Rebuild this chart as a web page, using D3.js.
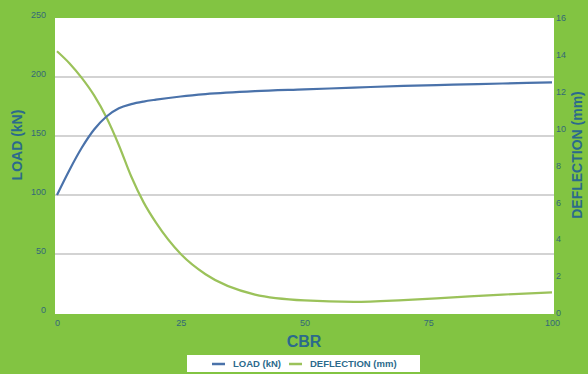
<!DOCTYPE html>
<html>
<head>
<meta charset="utf-8">
<script src="https://cdn.jsdelivr.net/npm/d3@7"></script>
<style>
  html, body { margin: 0; padding: 0; background: #82c442; }
  svg { display: block; font-family: "Liberation Sans", Arial, sans-serif; }
</style>
</head>
<body>
<svg id="chart" width="588" height="374"></svg>
<script>
// values
var cbr = [0, 2.5, 5, 7.5, 10, 12.5, 15, 17.5, 20, 25, 30, 40, 50, 60, 70, 80, 90, 100];
var load = [100, 121, 140, 155.5, 166.5, 173.5, 177, 179.2, 180.8, 183.5, 185.5, 188, 189.5, 191, 192.5, 193.5, 194.5, 195.5];
var deflection = [14.2, 13.55, 12.75, 11.8, 10.6, 9.1, 7.4, 6.0, 4.9, 3.2, 2.1, 1.0, 0.68, 0.6, 0.7, 0.85, 1.0, 1.12];

var loadTicks = [0, 50, 100, 150, 200, 250];
var deflTicks = [0, 2, 4, 6, 8, 10, 12, 14, 16];
var cbrTicks = [0, 25, 50, 75, 100];

var textColor = "#2b6a8c";
var tickColor = "#336878";

var svg = d3.select("#chart");

var plot = { left: 55, right: 554, top: 18, bottom: 314 };

var x = d3.scaleLinear().domain([0, 100]).range([57, 552]);
var yL = d3.scaleLinear().domain([0, 250]).range([313, 18]);
var yR = d3.scaleLinear().domain([0, 16]).range([313, 18]);

svg.append("rect")
    .attr("x", plot.left).attr("y", plot.top)
    .attr("width", plot.right - plot.left)
    .attr("height", plot.bottom - plot.top)
    .attr("fill", "#ffffff");

// gridlines
svg.append("g").selectAll("line")
    .data(loadTicks.filter(d => d > 0 && d < 250))
    .join("line")
    .attr("x1", plot.left).attr("x2", plot.right)
    .attr("y1", d => yL(d)).attr("y2", d => yL(d))
    .attr("stroke", "#c4c4c4")
    .attr("stroke-width", 1.5);

// axes (labels only, no domain lines)
var leftAxis = svg.append("g")
    .attr("transform", "translate(" + 46 + ",0)")
    .call(d3.axisLeft(yL).tickValues(loadTicks).tickSize(0).tickPadding(0));
var rightAxis = svg.append("g")
    .attr("transform", "translate(" + 556 + ",0)")
    .call(d3.axisRight(yR).tickValues(deflTicks).tickSize(0).tickPadding(0));
var bottomAxis = svg.append("g")
    .attr("transform", "translate(0," + 320 + ")")
    .call(d3.axisBottom(x).tickValues(cbrTicks).tickSize(0).tickPadding(0));

[leftAxis, rightAxis, bottomAxis].forEach(function (a) {
    a.select(".domain").remove();
    a.selectAll("text")
        .attr("fill", tickColor)
        .style("font-size", "9px")
        .style("font-family", "'Liberation Sans', Arial, sans-serif");
});
leftAxis.selectAll("text").attr("dy", "-0.1em");
rightAxis.selectAll("text").attr("dy", "0.3em");

// lines
var loadLine = d3.line()
    .x((d, i) => x(cbr[i]))
    .y(d => yL(d))
    .curve(d3.curveMonotoneX);
var deflLine = d3.line()
    .x((d, i) => x(cbr[i]))
    .y(d => yR(d))
    .curve(d3.curveMonotoneX);

svg.append("path")
    .datum(deflection)
    .attr("d", deflLine)
    .attr("fill", "none")
    .attr("stroke", "#9bc25a")
    .attr("stroke-width", 2.2);

svg.append("path")
    .datum(load)
    .attr("d", loadLine)
    .attr("fill", "none")
    .attr("stroke", "#4a72aa")
    .attr("stroke-width", 2.2);

// axis titles
svg.append("text")
    .attr("transform", "translate(22,145) rotate(-90)")
    .attr("text-anchor", "middle")
    .attr("fill", textColor)
    .style("font-weight", "bold")
    .style("font-size", "14px")
    .text("LOAD (kN)");

svg.append("text")
    .attr("transform", "translate(582,155) rotate(-90)")
    .attr("text-anchor", "middle")
    .attr("fill", textColor)
    .style("font-weight", "bold")
    .style("font-size", "14px")
    .text("DEFLECTION (mm)");

svg.append("text")
    .attr("x", 304).attr("y", 347)
    .attr("text-anchor", "middle")
    .attr("fill", textColor)
    .style("font-weight", "bold")
    .style("font-size", "16px")
    .text("CBR");

// legend
var legend = svg.append("g");
legend.append("rect")
    .attr("x", 187).attr("y", 355)
    .attr("width", 233).attr("height", 17)
    .attr("fill", "#ffffff");

var items = [
    { name: "LOAD (kN)", color: "#4a72aa", x: 212 },
    { name: "DEFLECTION (mm)", color: "#9bc25a", x: 289 }
];
items.forEach(function (it) {
    legend.append("line")
        .attr("x1", it.x).attr("x2", it.x + 13)
        .attr("y1", 364).attr("y2", 364)
        .attr("stroke", it.color)
        .attr("stroke-width", 2.5);
    legend.append("text")
        .attr("x", it.x + 21).attr("y", 367)
        .attr("fill", textColor)
        .style("font-weight", "bold")
        .style("font-size", "9.5px")
        .text(it.name);
});
</script>
</body>
</html>
